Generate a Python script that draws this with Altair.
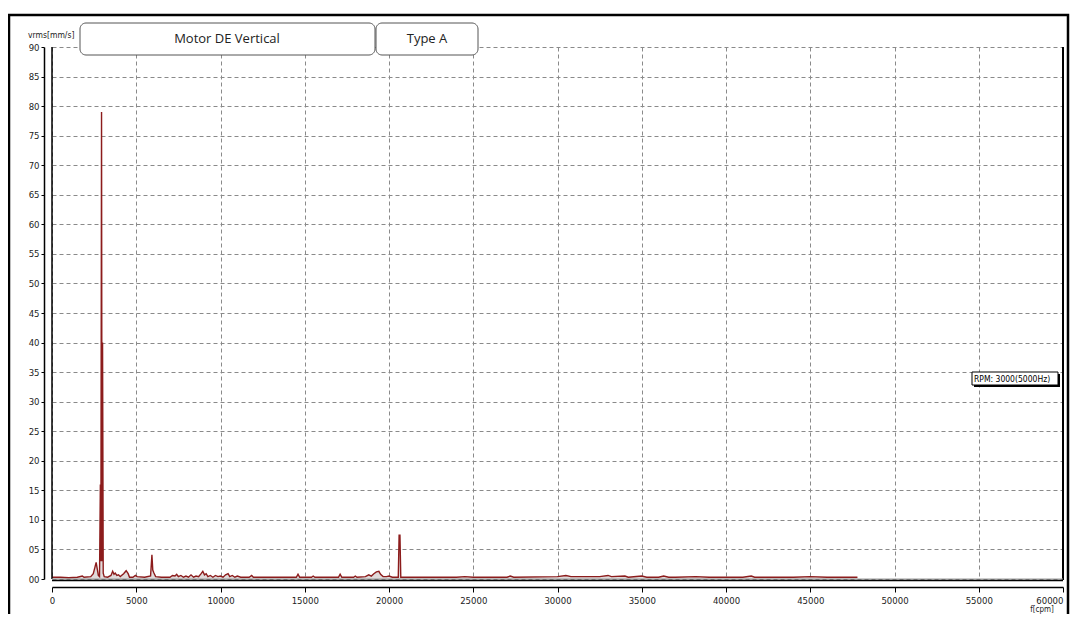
import altair as alt
import pandas as pd

# ---- data ----
freq = [0, 500, 1000, 1500, 1800, 1900, 2300, 2450, 2550, 2620, 2680, 2750, 2820,
        2870, 2900, 2940, 2970, 3000, 3040, 3100, 3300, 3500, 3600, 3680, 3750, 3850,
        3950, 4050, 4250, 4400, 4520, 4600, 4800, 4950, 5050, 5500, 5850, 5930, 5980,
        6050, 6150, 6500, 7000, 7150, 7300, 7400, 7500, 7650, 7800, 7950, 8100, 8250,
        8400, 8550, 8700, 8850, 8950, 9050, 9150, 9250, 9400, 9550, 9700, 9850, 10000,
        10150, 10300, 10450, 10550, 10700, 10850, 11000, 11200, 11700, 11850, 11950,
        12500, 13500, 14500, 14600, 14700, 15400, 15500, 15600, 16500, 17000, 17100,
        17200, 17900, 18000, 18100, 18600, 18800, 18950, 19100, 19250, 19400, 19500,
        19650, 19850, 20000, 20200, 20550, 20600, 20650, 20700, 21000, 22000, 24000,
        24500, 25000, 27000, 27200, 27400, 30000, 30500, 30800, 32500, 33000, 33200,
        34000, 34200, 35000, 35300, 36000, 36300, 36600, 37000, 38200, 39000, 41000,
        41500, 41700, 42000, 44000, 45000, 46000, 47800]
amp = [0.3, 0.3, 0.2, 0.3, 0.5, 0.3, 0.4, 0.9, 2.0, 2.8, 1.8, 0.6, 0.4,
       16.0, 3.0, 79.0, 3.0, 40.0, 1.0, 0.4, 0.3, 0.6, 1.3, 0.8, 1.0, 0.6,
       0.7, 0.4, 0.9, 1.4, 0.9, 0.3, 0.3, 0.6, 0.4, 0.3, 0.5, 4.1, 1.5,
       1.0, 0.4, 0.3, 0.3, 0.6, 0.5, 0.8, 0.4, 0.6, 0.3, 0.5, 0.3, 0.7,
       0.3, 0.5, 0.4, 0.9, 1.3, 0.7, 0.9, 0.4, 0.6, 0.3, 0.6, 0.4, 0.5,
       0.3, 0.7, 0.9, 0.4, 0.6, 0.3, 0.5, 0.3, 0.3, 0.6, 0.3,
       0.3, 0.3, 0.3, 0.8, 0.3, 0.3, 0.5, 0.3, 0.3, 0.3, 0.8,
       0.3, 0.3, 0.5, 0.3, 0.4, 0.7, 0.5, 0.9, 1.2, 1.3, 0.8,
       0.4, 0.4, 0.5, 0.3, 0.3, 7.4, 7.4, 0.3, 0.3, 0.3, 0.3,
       0.4, 0.3, 0.3, 0.5, 0.3, 0.4, 0.6, 0.4, 0.4, 0.6, 0.4,
       0.5, 0.3, 0.5, 0.3, 0.3, 0.5, 0.3, 0.3, 0.4, 0.3, 0.3,
       0.5, 0.3, 0.3, 0.3, 0.4, 0.3, 0.3]
x_ticks = list(range(0, 60001, 5000))
y_ticks = list(range(0, 91, 5))
title_main = "Motor DE Vertical"
title_type = "Type A"
rpm_label = "RPM: 3000(5000Hz)"
y_title = "vrms[mm/s]"
x_title = "f[cpm]"

df = pd.DataFrame({"f": freq, "v": amp})

W, H = 1011, 532
FONT = "Liberation Sans Narrow, DejaVu Sans Condensed, Liberation Sans, sans-serif"
LINE = "#8c1c1c"

x_enc = alt.X("f:Q", scale=alt.Scale(domain=[0, 60000], nice=False, zero=False),
              axis=alt.Axis(values=x_ticks, title=None, grid=True, gridColor="#8a8a8a",
                            gridDash=[4, 3], offset=8, domainColor="black", domainWidth=1.5,
                            tickColor="black", tickSize=5, labelFont=FONT, labelFontSize=9.5,
                            labelColor="#222", labelPadding=3, labelFlush=False,
                            labelAlign={"condition": {"test": "datum.value >= 60000", "value": "right"},
                                        "value": "center"},
                            labelOverlap=False, format="d"))
y_enc = alt.Y("v:Q", scale=alt.Scale(domain=[0, 90], nice=False),
              axis=alt.Axis(values=y_ticks, title=None, grid=True, gridColor="#8a8a8a",
                            gridDash=[4, 3], offset=8, domainColor="black", domainWidth=1.5,
                            tickColor="black", tickSize=3, labelFont=FONT, labelFontSize=9.5,
                            labelColor="#222", labelPadding=2, labelOverlap=False,
                            labelExpr="datum.value < 10 ? '0' + datum.value : '' + datum.value"))

base = alt.Chart(df)
area = base.mark_area(color="#ddd6d6", opacity=0.9).encode(x=x_enc, y=y_enc)
line = base.mark_line(color=LINE, strokeWidth=1.4, interpolate="linear").encode(x=x_enc, y=y_enc)

one = pd.DataFrame({"k": [0]})
deco = alt.Chart(one)

frame_left = deco.mark_rule(color="black", strokeWidth=1.5).encode(
    x=alt.value(0), y=alt.value(0), y2=alt.value(H))
frame_right = deco.mark_rule(color="black", strokeWidth=2).encode(
    x=alt.value(W), y=alt.value(0), y2=alt.value(H + 1))
frame_gray = deco.mark_rule(color="#9a9a9a", strokeWidth=1).encode(
    x=alt.value(0), x2=alt.value(W), y=alt.value(H))
frame_bottom = deco.mark_rule(color="black", strokeWidth=1.5).encode(
    x=alt.value(0), x2=alt.value(W), y=alt.value(H + 1.5))

outer = deco.mark_rect(fillOpacity=0, stroke="black", strokeWidth=2.5).encode(
    x=alt.value(-43), x2=alt.value(1016), y=alt.value(-32), y2=alt.value(640))

box1 = deco.mark_rect(fill="white", stroke="#555", strokeWidth=1, cornerRadius=6).encode(
    x=alt.value(28), x2=alt.value(323), y=alt.value(-24), y2=alt.value(8))
box2 = deco.mark_rect(fill="white", stroke="#555", strokeWidth=1, cornerRadius=6).encode(
    x=alt.value(324), x2=alt.value(426), y=alt.value(-24), y2=alt.value(8))
t1 = alt.Chart(pd.DataFrame({"t": [title_main]})).mark_text(
    font="Open Sans", fontSize=13, color="#222", align="center", baseline="middle").encode(
    text="t:N", x=alt.value(175), y=alt.value(-8))
t2 = alt.Chart(pd.DataFrame({"t": [title_type]})).mark_text(
    font="Open Sans", fontSize=13, color="#222", align="center", baseline="middle").encode(
    text="t:N", x=alt.value(375), y=alt.value(-8))

rpm_shadow = deco.mark_rect(fill="black").encode(
    x=alt.value(922), x2=alt.value(1008), y=alt.value(327), y2=alt.value(340))
rpm_box = deco.mark_rect(fill="white", stroke="black", strokeWidth=1).encode(
    x=alt.value(920), x2=alt.value(1006), y=alt.value(325), y2=alt.value(338))
rpm_text = alt.Chart(pd.DataFrame({"t": [rpm_label]})).mark_text(
    font=FONT, fontSize=8.5, color="black", align="left", baseline="middle").encode(
    text="t:N", x=alt.value(922), y=alt.value(331.5))

ytitle = alt.Chart(pd.DataFrame({"t": [y_title]})).mark_text(
    font=FONT, fontSize=8.5, color="#222", align="left", baseline="middle").encode(
    text="t:N", x=alt.value(-24), y=alt.value(-12))
xtitle = alt.Chart(pd.DataFrame({"t": [x_title]})).mark_text(
    font=FONT, fontSize=8, color="#222", align="center", baseline="middle").encode(
    text="t:N", x=alt.value(990), y=alt.value(563))

chart = alt.layer(
    area, line, frame_left, frame_right, frame_gray, frame_bottom,
    box1, box2, t1, t2, rpm_shadow, rpm_box, rpm_text, ytitle, xtitle, outer
).properties(
    width=W, height=H,
    padding={"left": 44, "top": 39, "right": 7, "bottom": 35},
    autosize=alt.AutoSizeParams(type="none"),
    background="white",
).configure_view(stroke=None)

chart.save("out.html", embed_options={"renderer": "svg", "actions": False})
